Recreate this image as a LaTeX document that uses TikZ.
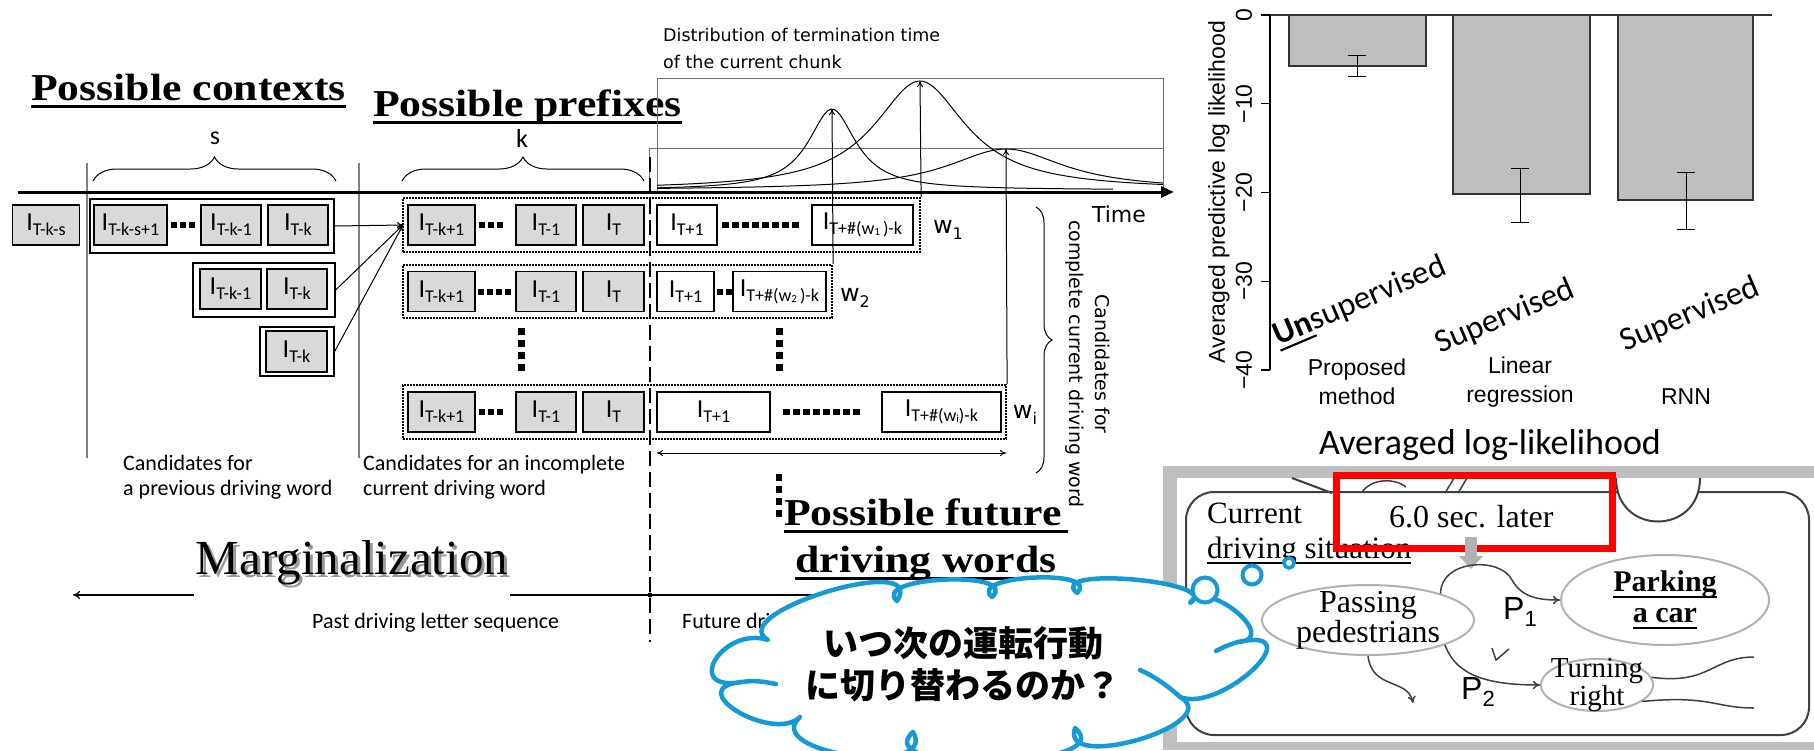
\documentclass[tikz,border=0pt]{standalone}
\usepackage{fontspec}
\usetikzlibrary{arrows.meta,shapes.geometric,decorations.pathreplacing,calc}
\setmainfont{Liberation Serif}
\newfontfamily\headfont[FakeStretch=1.15]{Liberation Serif}
\newfontfamily\condfont{Carlito}
\newfontfamily\tahfont{DejaVu Sans}
\newfontfamily\arialfont{Liberation Sans}
\newfontfamily\jpfont{Noto Sans CJK JP}
\newcommand\fsz[2]{\fontsize{#1}{#2}\selectfont}
\newcommand\lab[1]{{\condfont\fsz{26}{26}I\raisebox{-5pt}{\fsz{18}{18}#1}}}
\newcommand\wlab[1]{{\tahfont\fsz{24}{24}w\raisebox{-6pt}{\fsz{16}{16}#1}}}
\newsavebox\ulbox
\newcommand\myul[1]{\sbox\ulbox{#1}\rlap{\raisebox{-0.2em}{\rule{\wd\ulbox}{0.065em}}}\usebox\ulbox}
% one round puff of the thought cloud: from #1 over the apex #2 to #3
\newcommand\puff[3]{.. controls ($1.333*(#2)+0.633*(#1)-0.967*(#3)$) and ($1.333*(#2)+0.633*(#3)-0.967*(#1)$) .. (#3)}
\definecolor{cloudblue}{RGB}{20,155,215}
\definecolor{boxgray}{RGB}{217,217,217}
\definecolor{bargray}{RGB}{190,190,190}
\definecolor{linegray}{RGB}{110,110,110}

\begin{document}
\begin{tikzpicture}[x=1pt,y=-1pt,
  gbox/.style={draw, line width=1.3pt, fill=boxgray, minimum height=40pt, inner sep=0pt},
  wbox/.style={draw, line width=1.3pt, fill=white, minimum height=40pt, inner sep=0pt},
  grp/.style={draw, line width=1.3pt, inner sep=0pt},
  dotbox/.style={draw, line width=2.2pt, dash pattern=on 1.6pt off 1.4pt, inner sep=0pt},
  sq/.style={line width=6pt, dash pattern=on 6pt off 3pt},
  lsq/.style={line width=6.5pt, dash pattern=on 6.5pt off 3.5pt},
  vsq/.style={line width=7pt, dash pattern=on 7pt off 5pt},
  hair/.style={line width=1pt},
  head/.style={font=\headfont\bfseries\fsz{38}{38}, inner sep=0pt},
  captext/.style={font=\condfont\fsz{22}{25}, align=left, inner sep=0pt, anchor=north west},
  tip/.style={-{To[length=6pt,width=6pt]}},
  ell/.style={ellipse, draw=gray!60, line width=2pt, inner sep=0pt},
  photoline/.style={line width=1.5pt, black!75},
  bubble/.style={circle, draw=cloudblue, fill=white, inner sep=0pt},
  fold/.style={draw=cloudblue, line width=4.5pt, line cap=round}]
\useasboundingbox (0,0) rectangle (1814,750);
\fill[white] (0,0) rectangle (1814,750);

% ---------- headings ----------
\node[head, anchor=base west] (hctx) at (31,100) {\myul{Possible contexts}};
\node[head, anchor=base west] (hpre) at (373,116) {\myul{Possible prefixes}};

% ---------- termination-time distributions ----------
\node[anchor=west, align=left, font=\tahfont\fsz{17.5}{27}, inner sep=0pt] (dist) at (663,48)
  {Distribution of termination time\\of the current chunk};
\draw[hair, linegray] (657,192) -- (657,78) -- (1163,78) -- (1163,188);
\draw[hair, linegray] (649,192) -- (649,148) -- (1163,148);
\draw[hair] plot[domain=657:1113, samples=140] (\x, {190 - 81/(1+((\x-832)/29)^2)});
\draw[hair] plot[domain=657:1163, samples=140] (\x, {190 - 109/(1+((\x-920)/56)^2)});
\draw[hair] plot[domain=657:1163, samples=140] (\x, {190 - 41/(1+((\x-1006)/71)^2)});
\coordinate (pk1) at (832,109);
\coordinate (pk2) at (920,81);
\coordinate (pk3) at (1006,149);

% ---------- separators and braces ----------
\draw[line width=1.3pt, black!50] (87,163) -- (87,458);
\draw[line width=1.3pt, black!50] (359,163) -- (359,458);
\draw[hair, decorate, decoration={brace, amplitude=24pt}] (93,181) -- (336,181);
\draw[hair, decorate, decoration={brace, amplitude=24pt}] (402,181) -- (644,181);
\node[font=\condfont\fsz{26}{26}] (ls) at (215,138) {s};
\node[font=\condfont\fsz{26}{26}] (lk) at (522,138) {k};

% ---------- time axis ----------
\coordinate (t0) at (18,192);
\coordinate (t1) at (1174,192);
\draw[line width=3pt, -{Triangle[length=13pt,width=11pt]}] (t0) -- (t1);
\node[font=\tahfont\fsz{22}{22}] (time) at (1119,214) {Time};

% ---------- previous-word candidates ----------
\node[gbox, minimum width=67pt] (c0) at (46,225) {\lab{T-k-s}};
\node[grp, minimum width=244pt, minimum height=54pt] (g1) at (212,226) {};
\node[gbox, minimum width=73pt] (g1a) at (130.5,225) {\lab{T-k-s+1}};
\draw[sq] (171,225) -- (195,225);
\node[gbox, minimum width=60pt] (g1b) at (231,225) {\lab{T-k-1}};
\node[gbox, minimum width=60pt] (g1c) at (298,225) {\lab{T-k}};
\node[grp, minimum width=142pt, minimum height=54pt] (g2) at (264,290) {};
\node[gbox, minimum width=61pt] (g2a) at (230.5,289) {\lab{T-k-1}};
\node[gbox, minimum width=60pt] (g2b) at (297,289) {\lab{T-k}};
\node[grp, minimum width=74pt, minimum height=49pt] (g3) at (297,351.5) {};
\node[gbox, minimum width=61pt, minimum height=41pt] (g3a) at (296.5,351.5) {\lab{T-k}};
\coordinate (J) at (403,225);
\draw[hair, tip] (g1.east) -- (J);
\draw[hair, tip] (g2.east) -- (J);
\draw[hair, tip] (g3.east) -- (J);

% ---------- prefix / future rows ----------
\node[dotbox, minimum width=517pt, minimum height=54pt] (r1) at (661.5,225) {};
\node[gbox, minimum width=67pt] (r1a) at (441.5,225) {\lab{T-k+1}};
\draw[sq] (479,225) -- (503,225);
\node[gbox, minimum width=60pt] (r1b) at (546,225) {\lab{T-1}};
\node[gbox, minimum width=61pt] (r1c) at (613.5,225) {\lab{T}};
\node[wbox, minimum width=60pt] (r1d) at (687,225) {\lab{T+1}};
\draw[lsq] (722,225) -- (799,225);
\node[wbox, minimum width=101pt] (r1e) at (862.5,225) {\lab{T+\#(w\raisebox{-1pt}{\fsz{11}{11}1}\,)-k}};
\node (w1) at (948,230) {\wlab{1}};

\node[dotbox, minimum width=429pt, minimum height=53pt] (r2) at (617.5,291.5) {};
\node[gbox, minimum width=67pt] (r2a) at (441.5,291.5) {\lab{T-k+1}};
\draw[sq] (478,291.5) -- (511,291.5);
\node[gbox, minimum width=60pt] (r2b) at (546,291.5) {\lab{T-1}};
\node[gbox, minimum width=61pt] (r2c) at (613.5,291.5) {\lab{T}};
\node[wbox, minimum width=57pt] (r2d) at (685.5,291.5) {\lab{T+1}};
\draw[sq] (716.5,291.5) -- (731.5,291.5);
\node[wbox, minimum width=93pt] (r2e) at (779.5,291.5) {\lab{T+\#(w\raisebox{-1pt}{\fsz{11}{11}2}\,)-k}};
\node (w2) at (855,298) {\wlab{2}};

\draw[vsq] (521,328) -- (521,371);
\draw[vsq] (779,328) -- (779,371);

\node[dotbox, minimum width=603pt, minimum height=54pt] (r4) at (704.5,412) {};
\node[gbox, minimum width=67pt] (r4a) at (441.5,412) {\lab{T-k+1}};
\draw[sq] (479,412) -- (503,412);
\node[gbox, minimum width=60pt] (r4b) at (546,412) {\lab{T-1}};
\node[gbox, minimum width=61pt] (r4c) at (613.5,412) {\lab{T}};
\node[wbox, minimum width=113pt] (r4d) at (713.5,412) {\lab{T+1}};
\draw[lsq] (783,412) -- (860,412);
\node[wbox, minimum width=119pt] (r4e) at (941.5,412) {\lab{T+\#(w\raisebox{-1pt}{\fsz{11}{11}i})-k}};
\node (wi) at (1025,415) {\wlab{i}};

\draw[hair, tip] (r1.north east) -- (pk2);
\draw[hair, tip] (r2.north east) -- (pk1);
\draw[hair, tip] (r4.north east) -- (pk3);

\coordinate (da1) at (657,453);
\coordinate (da2) at (1006,453);
\draw[hair, {To[length=6pt,width=6pt]}-{To[length=6pt,width=6pt]}] (da1) -- (da2);
\draw[line width=6pt, dash pattern=on 7pt off 5pt] (779,474) -- (779,517);

\draw[hair, decorate, decoration={brace, amplitude=16pt}] (1036,207) -- (1036,473);
\node[rotate=-90, align=center, font=\tahfont\fsz{19}{26}] (cand) at (1088,364)
  {Candidates for\\complete current driving word};

% ---------- present time boundary ----------
\coordinate (d0) at (650,157);
\coordinate (d1) at (650,642);
\draw[line width=2.6pt, dash pattern=on 15pt off 6pt] (d0) -- (d1);

% ---------- captions ----------
\node[captext] (cap1) at (123,455) {Candidates for\\a previous driving word};
\node[captext] (cap2) at (363,455) {Candidates for an incomplete\\current driving word};
\node[head, anchor=base] (fut1) at (926,525) {\myul{Possible future\,}};
\node[head, anchor=base] (fut2) at (926,572) {\myul{driving words}};

% ---------- marginalization arrow ----------
\coordinate (m0) at (1160,595);
\coordinate (m1) at (73,595);
\draw[line width=1.3pt, -{To[length=7pt,width=8pt]}] (m0) -- (m1);
\fill (650,595) circle (2.5pt);
\node[fill=white, minimum width=316pt, minimum height=67pt] (marg) at (352,562.5) {};
\node[font=\fsz{49}{49}, text=black!40, xshift=3pt, yshift=-3pt] (margs) at (marg) {Marginalization};
\node[font=\fsz{49}{49}] (margt) at (marg) {Marginalization};
\node[font=\condfont\fsz{22}{22}, anchor=west, inner sep=0pt] (past) at (312,623) {Past driving letter sequence};
\node[font=\condfont\fsz{22}{22}, anchor=west, inner sep=0pt] (future) at (682,623) {Future driving letter sequence};

% ---------- bar chart ----------
\draw[fill=bargray, draw=black!80, line width=1.2pt] (1289,15) rectangle (1426,66);
\draw[fill=bargray, draw=black!80, line width=1.2pt] (1453,15) rectangle (1590,194);
\draw[fill=bargray, draw=black!80, line width=1.2pt] (1618,15) rectangle (1753,200);
\draw[line width=1.2pt, black!80] (1270,15) -- (1772,15);
\draw[line width=1.2pt] (1270,15) -- (1270,370);
\foreach \k/\t in {0/0,1/−10,2/−20,3/−30,4/−40}{
  \draw[line width=1.2pt] (1261,{15+88.75*\k}) -- (1270,{15+88.75*\k});
  \node[rotate=90, font=\arialfont\fsz{23}{23}] (tk\k) at (1244,{15+88.75*\k}) {\t};
}
\foreach \x/\a/\b in {1357/55/76,1520/168/222,1686/172/229}{
  \draw[hair] (\x,\a) -- (\x,\b);
  \draw[hair] (\x-9,\a) -- (\x+9,\a);
  \draw[hair] (\x-9,\b) -- (\x+9,\b);
}
\node[rotate=90, font=\arialfont\fsz{23}{23}] (ylab) at (1219,192) {Averaged predictive log likelihood};
\node[align=center, font=\arialfont\fsz{23}{29}] (m1lab) at (1357,382) {Proposed\\method};
\node[align=center, font=\arialfont\fsz{23}{29}] (m2lab) at (1520,382) {Linear\\regression};
\node[font=\arialfont\fsz{23}{23}] (m3lab) at (1686,397) {RNN};
\node[rotate=23, font=\condfont\fsz{33}{33}] (sup1) at (1360,302) {\myul{\textbf{Un}}supervised};
\node[rotate=23, font=\condfont\fsz{33}{33}] (sup2) at (1505,317) {Supervised};
\node[rotate=23, font=\condfont\fsz{33}{33}] (sup3) at (1690,315) {Supervised};
\node[font=\condfont\fsz{36}{36}] (avg) at (1490,445) {Averaged log-likelihood};

% ---------- driving-situation panel ----------
\fill[gray!50] (1163,466) rectangle (1814,750);
\fill[white] (1177,478) rectangle (1814,742);
\draw[photoline, line width=2pt, rounded corners=28pt] (1186,492) rectangle (1809,735);
\draw[photoline, line width=2pt] (1292,478) -- (1332,493);
\draw[photoline] (1362,492) .. controls (1372,478) and (1395,478) .. (1406,487);
\draw[photoline] (1445,493) -- (1454,478);
\draw[photoline] (1458,493) -- (1467,478);
\draw[photoline, line width=2pt, fill=white] (1616,478) .. controls (1616,536) and (1700,536) .. (1700,478);
\node[anchor=base west, font=\fsz{31}{31}, inner sep=0pt] (cur1) at (1207,523) {Current};
\node[anchor=base west, font=\fsz{31}{31}, inner sep=0pt] (cur2) at (1207,558) {\myul{driving situation}};
\node[anchor=base west, font=\fsz{32}{32}, inner sep=0pt] (later) at (1389,527) {6.0 sec. later};
\draw[red, line width=7pt] (1336,475) rectangle (1612,548);
\fill[gray!60] (1465,537) rectangle (1477,557);
\fill[gray!60] (1459,556) -- (1483,556) -- (1471,569) -- cycle;

\node[ell, minimum width=212pt, minimum height=70pt] (pass) at (1368,620) {};
\node[align=center, font=\fsz{32}{30}] (passt) at (pass) {Passing\\pedestrians};
\node[ell, minimum width=208pt, minimum height=90pt] (park) at (1665,600) {};
\node[align=center, font=\bfseries\fsz{30}{31}] (parkt) at (park) {\myul{Parking}\\\myul{a car}};
\node[ell, minimum width=112pt, minimum height=52pt] (turn) at (1597,685) {};
\node[align=center, font=\fsz{29}{23}] (turnt) at (turn) {Turning\\right};

\draw[photoline, -{To[length=7pt,width=8pt]}] (pass.20) .. controls (1440,560) and (1500,556) .. (1512,580)
   .. controls (1522,598) and (1540,600) .. (park.west);
\draw[photoline, -{To[length=7pt,width=8pt]}] (pass.-18) .. controls (1455,672) and (1480,685) .. (turn.west);
\draw[photoline, -{To[length=7pt,width=8pt]}] (pass.south) .. controls (1372,690) and (1408,678) .. (1413,703);
\draw[photoline] (1492,648) -- (1496,660) -- (1509,649);
\draw[photoline] (turn.8) .. controls (1710,685) and (1712,657) .. (1754,657);
\draw[photoline] (turn.-20) .. controls (1710,695) and (1715,708) .. (1754,708);
\node[font=\arialfont\fsz{32}{32}] (p1) at (1520,612) {P\raisebox{-7pt}{\fsz{22}{22}1}};
\node[font=\arialfont\fsz{32}{32}] (p2) at (1478,692) {P\raisebox{-7pt}{\fsz{22}{22}2}};

% ---------- thought cloud ----------
% junctions between the puffs
\coordinate (k1) at (768,640);
\coordinate (k2) at (897,601);
\coordinate (k3) at (992,597);
\coordinate (k4) at (1077,593);
\coordinate (k5) at (1190,603);
\coordinate (k6) at (1238,642);
\coordinate (k7) at (1180,697);
\coordinate (k8) at (1075,728);
\coordinate (k9) at (913,732);
\coordinate (k10) at (800,717);
\coordinate (k11) at (742,682);
% apexes of the puffs
\coordinate (a1) at (828,592);
\coordinate (a2) at (946,580);
\coordinate (a3) at (1035,578);
\coordinate (a4) at (1135,580);
\coordinate (a5) at (1237,612);
\coordinate (a6) at (1254,670);
\coordinate (a7) at (1140,740);
\coordinate (a8) at (995,762);
\coordinate (a9) at (852,756);
\coordinate (a10) at (738,712);
\coordinate (a11) at (716,660);
\draw[draw=cloudblue, line width=4.5pt, fill=white, line join=round] (k1)
  \puff{k1}{a1}{k2} \puff{k2}{a2}{k3} \puff{k3}{a3}{k4} \puff{k4}{a4}{k5}
  \puff{k5}{a5}{k6} \puff{k6}{a6}{k7} \puff{k7}{a7}{k8} \puff{k8}{a8}{k9}
  \puff{k9}{a9}{k10} \puff{k10}{a10}{k11} \puff{k11}{a11}{k1} -- cycle;
\draw[fold] (k11) .. controls (755,680) and (766,682) .. (776,684);
\draw[fold] (k7) .. controls (1168,686) and (1154,676) .. (1140,670);
\draw[fold] (k6) .. controls (1231,644) and (1223,647) .. (1216,651);
\node[align=center, font=\jpfont\bfseries\fsz{35}{42}] (q) at (963,664) {いつ次の運転行動\\に切り替わるのか？};
\node[bubble, line width=4pt, minimum size=25pt] (bub1) at (1205,590) {};
\node[bubble, line width=4pt, minimum size=19pt] (bub2) at (1252,575) {};
\node[bubble, line width=3.5pt, minimum size=10pt] (bub3) at (1289,563) {};
\end{tikzpicture}
\end{document}
